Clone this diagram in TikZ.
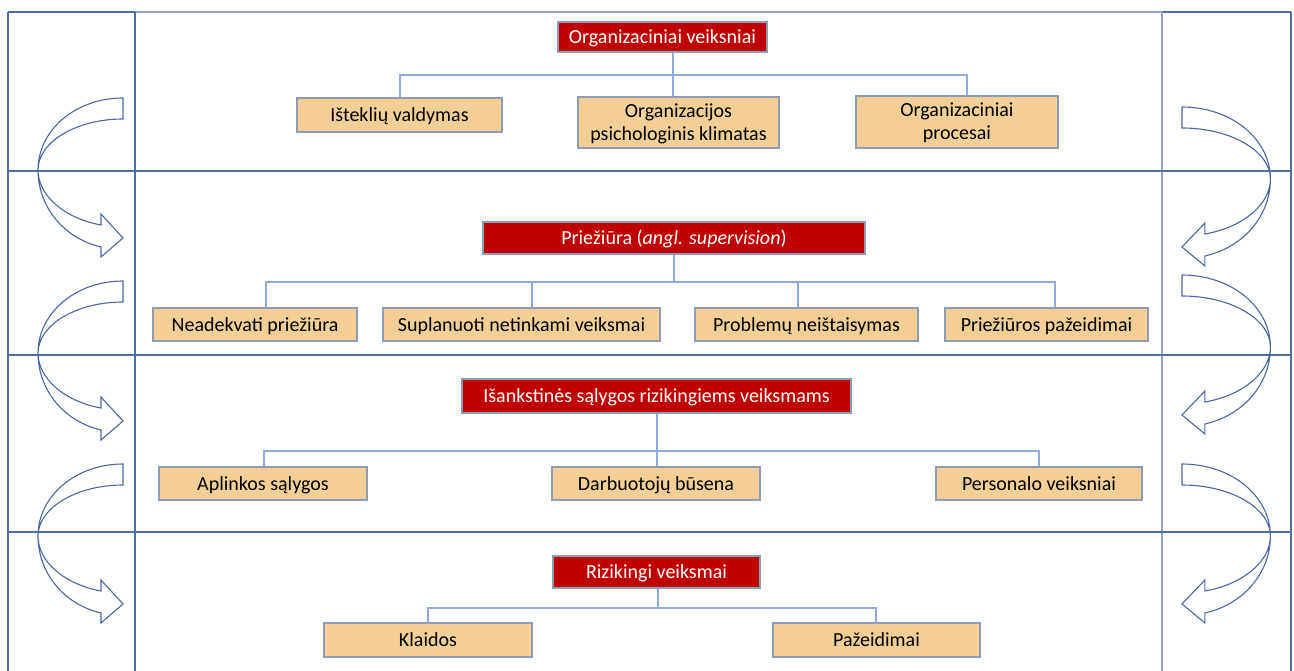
\documentclass[tikz,border=0pt]{standalone}
\usepackage{fontspec}
\setmainfont{Carlito}
\definecolor{framedark}{HTML}{4F6EA6}
\definecolor{framelight}{HTML}{8FA4CC}
\definecolor{headfill}{HTML}{C00000}
\definecolor{itemfill}{HTML}{F4CF95}
\definecolor{boxedge}{HTML}{8E9DB6}
\definecolor{linkcol}{HTML}{8FAADC}
\definecolor{arrowcol}{HTML}{4A67A3}
% outline of one curved block arrow, tail at the local origin
\newcommand{\bentarrow}{%
  \draw[bentline] (0,0) .. controls (-47.5,0) and (-85,32.2) .. (-85,72)
    .. controls (-85,108.3) and (-59.8,140.1) .. (-22,149)
    -- (-22,159) -- (0,140) -- (-22,116) -- (-22,127)
    .. controls (-58.5,120.3) and (-85,97.7) .. (-85,72)
    .. controls (-85,43.8) and (-46.4,21) .. (0,21) -- cycle;}
\begin{document}
\begin{tikzpicture}[x=1pt,y=-1pt,
  txt/.style={font=\fontsize{20}{23}\selectfont, inner sep=0pt, align=center,
    text height=17pt, text depth=4pt},
  twoline/.style={text height=40pt},
  headbox/.style={txt, draw=boxedge, line width=1.2, fill=headfill, text=white},
  itembox/.style={txt, draw=boxedge, line width=1.2, fill=itemfill, text=black},
  link/.style={draw=linkcol, line width=1.2},
  gridd/.style={draw=framedark, line width=1.6},
  gridl/.style={draw=framelight, line width=1.6},
  bentline/.style={draw=arrowcol, line width=1.1, line join=miter}]
\useasboundingbox (0,0) rectangle (1294,671);

% frame of the four layers
\draw[gridl] (135,12) -- (1162,12);
\draw[gridd] (8,12) -- (135,12);
\draw[gridd] (1162,12) -- (1291,12);
\draw[gridd] (8,12) -- (8,671);
\draw[gridd] (135,12) -- (135,671);
\draw[gridl] (1162,12) -- (1162,671);
\draw[gridd] (1291,12) -- (1291,671);
\draw[gridd] (8,171) -- (1291,171);
\draw[gridd] (8,355) -- (1291,355);
\draw[gridd] (8,532) -- (1291,532);

% curved arrows at the left side
\begin{scope}[shift={(123,98)}]\bentarrow\end{scope}
\begin{scope}[shift={(123,281)}]\bentarrow\end{scope}
\begin{scope}[shift={(123,464)}]\bentarrow\end{scope}
% curved arrows at the right side
\begin{scope}[shift={(1182,107)}, xscale=-1.04]\bentarrow\end{scope}
\begin{scope}[shift={(1182,275)}, xscale=-1.04]\bentarrow\end{scope}
\begin{scope}[shift={(1182,464)}, xscale=-1.04]\bentarrow\end{scope}

% layer 1
\node[headbox, minimum width=209, minimum height=30] (o) at (662.5,37) {Organizaciniai veiksniai};
\node[itembox, minimum width=205, minimum height=34] (o1) at (399.5,115) {Išteklių valdymas};
\node[itembox, twoline, minimum width=201, minimum height=51] (o2) at (678.5,122.5) {Organizacijos\\psichologinis klimatas};
\node[itembox, twoline, minimum width=202, minimum height=52] (o3) at (957,122) {Organizaciniai\\procesai};
\coordinate (ob) at (673,75);
\draw[link] (o.south -| ob) -- (o2.north -| ob);
\draw[link] ([xshift=0.5]o1.north) |- (ob) -| ([xshift=10]o3.north);

% layer 2
\node[headbox, minimum width=382, minimum height=32] (p) at (674,238) {Priežiūra (\textit{angl. supervision})};
\node[itembox, minimum width=204, minimum height=33] (p1) at (255,324.5) {Neadekvati priežiūra};
\node[itembox, minimum width=277, minimum height=33] (p2) at (521.5,324.5) {Suplanuoti netinkami veiksmai};
\node[itembox, minimum width=223, minimum height=33] (p3) at (806.5,324.5) {Problemų neištaisymas};
\node[itembox, minimum width=203, minimum height=33] (p4) at (1046.5,324.5) {Priežiūros pažeidimai};
\coordinate (pb) at (674,282);
\draw[link] (p.south) -- (pb);
\draw[link] ([xshift=11]p1.north) |- (pb) -| ([xshift=8.5]p4.north);
\draw[link] ([xshift=10.5]p2.north) -- ([xshift=10.5]p2.north |- pb);
\draw[link] ([xshift=-8.5]p3.north) -- ([xshift=-8.5]p3.north |- pb);

% layer 3
\node[headbox, minimum width=389, minimum height=34] (s) at (656.5,396) {Išankstinės sąlygos rizikingiems veiksmams};
\node[itembox, minimum width=208, minimum height=33] (s1) at (263,483.5) {Aplinkos sąlygos};
\node[itembox, minimum width=208, minimum height=33] (s2) at (656,483.5) {Darbuotojų būsena};
\node[itembox, minimum width=206, minimum height=33] (s3) at (1039,483.5) {Personalo veiksniai};
\coordinate (sb) at (657,451);
\draw[link] (s.south -| sb) -- (s2.north -| sb);
\draw[link] ([xshift=1]s1.north) |- (sb) -| (s3.north);

% layer 4
\node[headbox, minimum width=207, minimum height=32] (r) at (656.5,572) {Rizikingi veiksmai};
\node[itembox, minimum width=208, minimum height=34] (r1) at (428,640) {Klaidos};
\node[itembox, minimum width=207, minimum height=34] (r2) at (876.5,640) {Pažeidimai};
\coordinate (rb) at (658,608);
\draw[link] (r.south -| rb) -- (rb);
\draw[link] (r1.north) |- (rb) -| ([xshift=-0.5]r2.north);
\end{tikzpicture}
\end{document}
